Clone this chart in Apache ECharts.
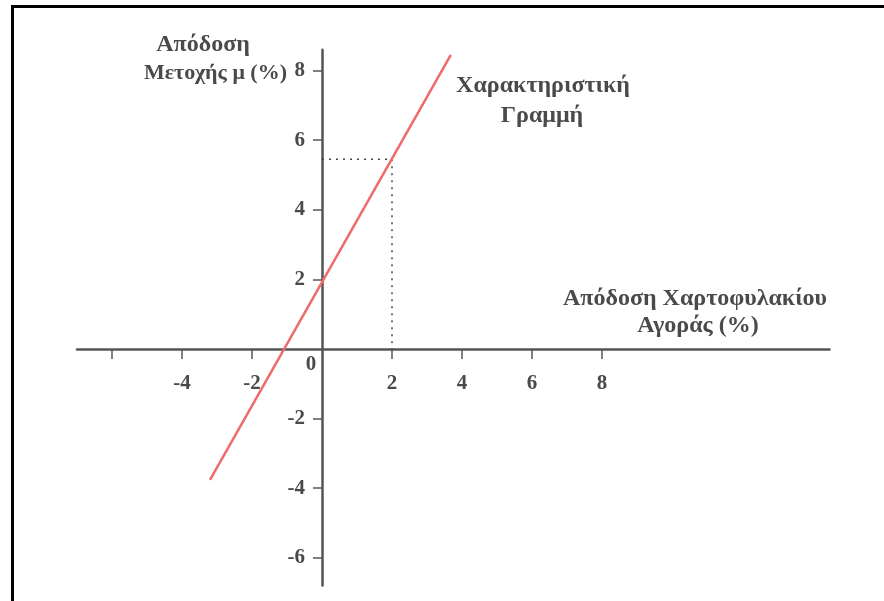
<!DOCTYPE html>
<html>
<head>
<meta charset="utf-8">
<title>Χαρακτηριστική Γραμμή</title>
<script src="https://cdn.jsdelivr.net/npm/echarts@6/dist/echarts.min.js"></script>
<style>
  html, body { margin: 0; padding: 0; background: #fff; }
  #chart { width: 884px; height: 601px; }
</style>
</head>
<body>
<div id="chart"></div>
<script>
// τιμές διαγράμματος
const xTicks = [-6, -4, -2, 2, 4, 6, 8]
const xLabels = [-4, -2, 2, 4, 6, 8]
const yTicks = [-6, -4, -2, 2, 4, 6, 8]
const yLabels = [-6, -4, -2, 2, 4, 6, 8]
// χαρακτηριστική γραμμή (άκρα όπως διαβάζονται)
const lineX = [-3.2, 3.68]
const lineY = [-3.76, 8.45]
// διακεκομμένη ένδειξη στο x = 2
const guideX = [0, 2, 2]
const guideY = [5.45, 5.45, 0]

const textColor = '#4a4a4a'
const axisColor = '#555'
const font = 'Liberation Serif'

// θέση αξόνων στο πλέγμα (για offset, αφού οι ετικέτες δεν ακολουθούν το onZero)
const gridLeft = 77
const gridBottom = 15.4
const xMin = -7, xMax = 14.5
const yMin = -6.8, yMax = 8.6
const gridW = 884 - gridLeft - 54.5
const gridH = 601 - 49.7 - gridBottom
const yZeroOffset = -(gridH * (0 - yMin) / (yMax - yMin))
const xZeroOffset = -(gridW * (0 - xMin) / (xMax - xMin))

const chart = echarts.init(document.getElementById('chart'))

const titleStyle = (text, x, y, align, size) => ({
  type: 'text',
  x: x,
  y: y,
  style: {
    text: text,
    fill: textColor,
    font: 'bold ' + (size || 24) + 'px "Liberation Serif"',
    align: align || 'center',
    verticalAlign: 'middle',
  },
})

const option = {
  backgroundColor: '#fff',
  animation: false,
  grid: {
    left: gridLeft,
    right: 54.5,
    top: 49.7,
    bottom: gridBottom,
    containLabel: false,
    outerBoundsMode: 'none',
  },
  xAxis: {
    type: 'value',
    min: xMin,
    max: xMax,
    offset: yZeroOffset,
    axisLine: { onZero: false, lineStyle: { color: axisColor, width: 2.5 } },
    axisTick: {
      show: true,
      customValues: xTicks,
      length: 10,
      lineStyle: { color: axisColor, width: 1.5 },
    },
    axisLabel: {
      customValues: xLabels,
      margin: 24,
      color: textColor,
      fontFamily: font,
      fontWeight: 'bold',
      fontSize: 21,
    },
    splitLine: { show: false },
  },
  yAxis: {
    type: 'value',
    min: yMin,
    max: yMax,
    offset: xZeroOffset,
    axisLine: { onZero: false, lineStyle: { color: axisColor, width: 2.5 } },
    axisTick: {
      show: true,
      customValues: yTicks,
      length: 9,
      lineStyle: { color: axisColor, width: 1.5 },
    },
    axisLabel: {
      customValues: yLabels,
      margin: 17,
      color: textColor,
      fontFamily: font,
      fontWeight: 'bold',
      fontSize: 21,
    },
    splitLine: { show: false },
  },
  series: [
    {
      name: 'Χαρακτηριστική Γραμμή',
      type: 'line',
      symbol: 'none',
      lineStyle: { color: '#f06a6a', width: 2.5 },
      data: lineX.map((x, i) => [x, lineY[i]]),
      z: 3,
    },
    {
      name: 'guide',
      type: 'line',
      symbol: 'none',
      lineStyle: { color: '#444', width: 1.5, type: [2, 5] },
      data: guideX.map((x, i) => [x, guideY[i]]),
      z: 2,
    },
  ],
  graphic: [
    // πλαίσιο σάρωσης
    { type: 'line', shape: { x1: 11, y1: 6.5, x2: 884, y2: 6.5 }, style: { stroke: '#000', lineWidth: 3 } },
    { type: 'line', shape: { x1: 12.5, y1: 5, x2: 12.5, y2: 601 }, style: { stroke: '#000', lineWidth: 3 } },
    titleStyle('Απόδοση', 203, 45),
    titleStyle('Μετοχής μ (%)', 287, 73, 'right', 22),
    titleStyle('Χαρακτηριστική', 543, 86),
    titleStyle('Γραμμή', 542, 116),
    titleStyle('Απόδοση Χαρτοφυλακίου', 695, 299),
    titleStyle('Αγοράς (%)', 698, 326),
    {
      type: 'text',
      x: 311,
      y: 365,
      style: {
        text: '0',
        fill: textColor,
        font: 'bold 21px "Liberation Serif"',
        align: 'center',
        verticalAlign: 'middle',
      },
    },
  ],
}

chart.setOption(option)
</script>
</body>
</html>
